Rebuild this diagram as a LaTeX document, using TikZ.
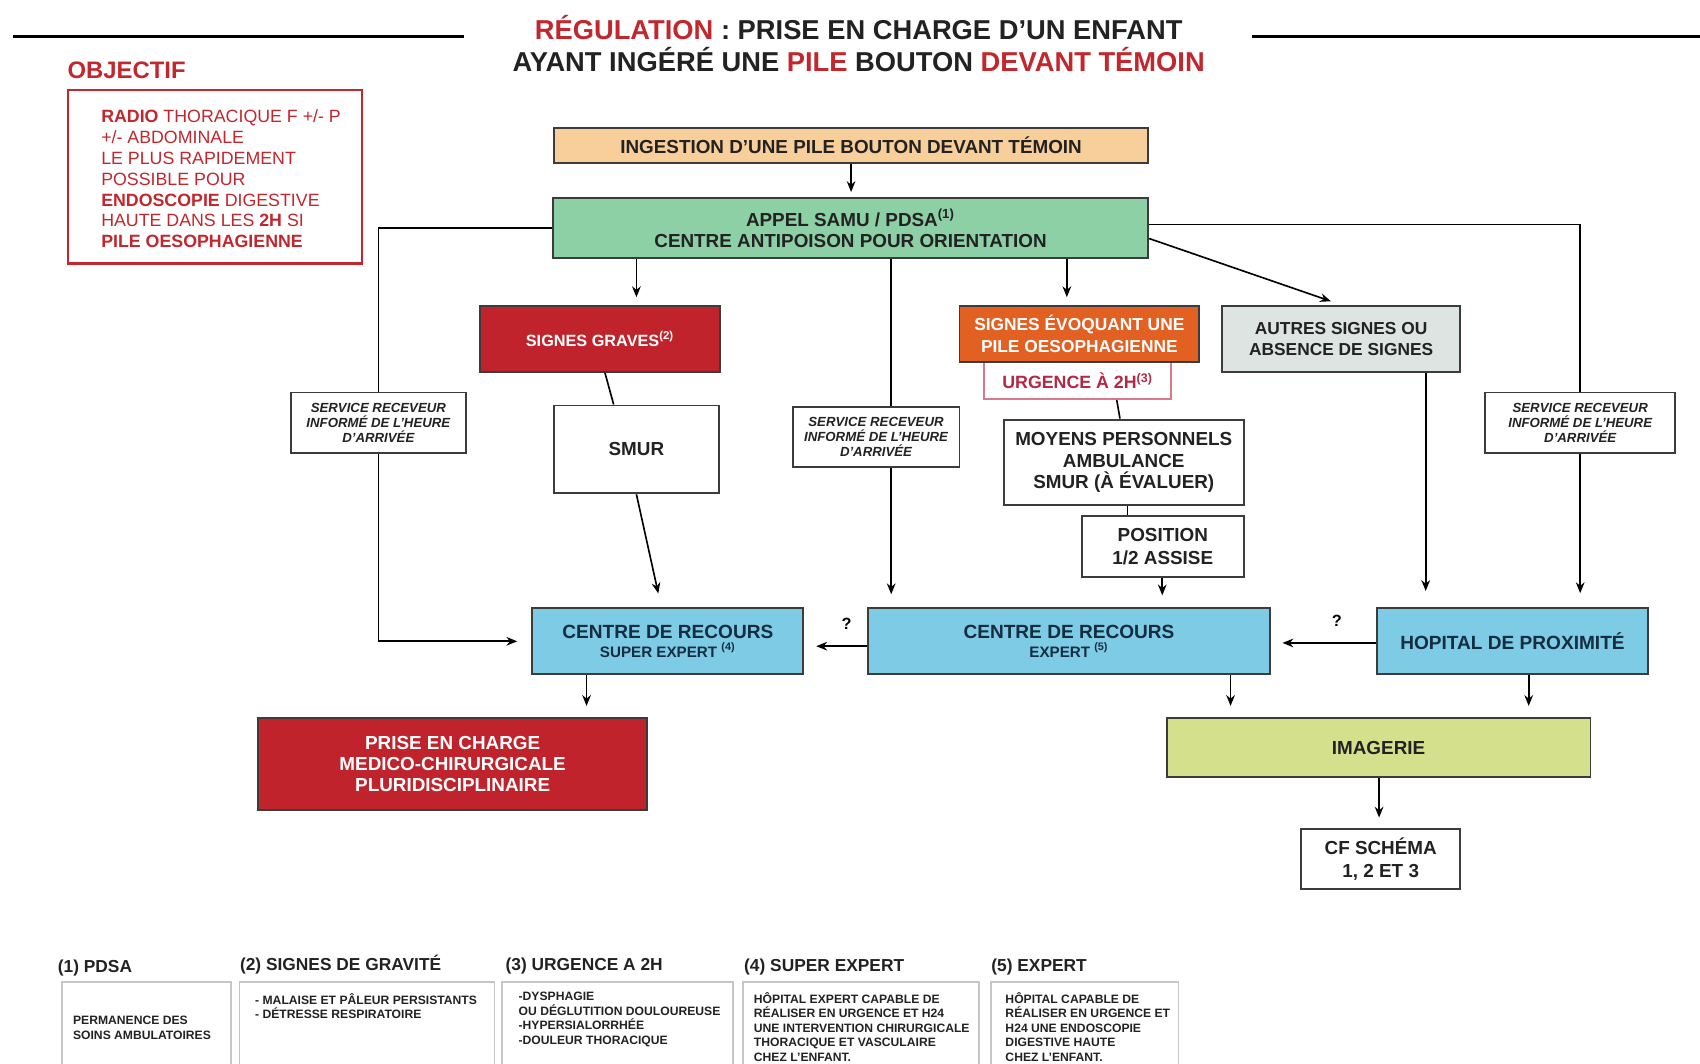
\documentclass[tikz,border=0pt]{standalone}
\usepackage{fontspec}
\setmainfont{Liberation Sans}
\usetikzlibrary{arrows.meta}

\definecolor{titlered}{RGB}{193,39,45}
\definecolor{textdark}{RGB}{34,34,34}
\definecolor{boxline}{RGB}{60,60,60}
\definecolor{ingestfill}{RGB}{248,206,155}
\definecolor{appelfill}{RGB}{141,208,165}
\definecolor{gravefill}{RGB}{192,35,43}
\definecolor{evoqfill}{RGB}{226,96,34}
\definecolor{autresfill}{RGB}{221,228,225}
\definecolor{bluefill}{RGB}{125,203,228}
\definecolor{imagfill}{RGB}{212,224,140}
\definecolor{navy}{RGB}{20,45,65}
\definecolor{urgtext}{RGB}{180,40,70}
\definecolor{urgline}{RGB}{220,120,140}

\begin{document}
\begin{tikzpicture}[x=0.5pt,y=-0.5pt,
  box/.style={draw=boxline, line width=0.9pt, inner sep=1pt, align=center, text=textdark,
    font=\bfseries\fontsize{8.7}{9.75}\selectfont},
  servbox/.style={box, fill=white, font=\bfseries\itshape\fontsize{6.1}{6.75}\selectfont},
  bluebox/.style={box, fill=bluefill, text=navy, minimum height=30.5pt,
    font=\bfseries\fontsize{8.8}{8.5}\selectfont},
  arr/.style={-{Stealth[length=5pt,width=4pt]}, line width=0.75pt},
  lien/.style={line width=0.75pt},
  note/.style={anchor=north west, inner sep=0pt, align=left, text=textdark,
    font=\bfseries\fontsize{5.6}{6.65}\selectfont},
  notetitle/.style={anchor=west, inner sep=0pt, text=textdark, font=\bfseries\fontsize{8}{9}\selectfont},
  notebox/.style={draw=gray!45, line width=0.8pt}
]
\useasboundingbox (0,0) rectangle (1568,981);

% titre
\node[align=center, text=textdark, font=\bfseries\fontsize{12.6}{15}\selectfont] (titre) at (792,40)
  {\textcolor{titlered}{RÉGULATION} : PRISE EN CHARGE D'UN ENFANT\\
   AYANT INGÉRÉ UNE \textcolor{titlered}{PILE} BOUTON \textcolor{titlered}{DEVANT TÉMOIN}};
\draw[line width=1.5pt] (12,34) -- (428,34);
\draw[line width=1.5pt] (1155,34) -- (1568,34);

% objectif
\node[anchor=west, inner sep=0pt, text=titlered, font=\bfseries\fontsize{11}{13}\selectfont] (objlabel) at (62,65) {OBJECTIF};
\draw[draw=titlered, line width=1pt] (63,83) rectangle (334,243);
\node[anchor=north west, inner sep=0pt, align=left, text=titlered, font=\fontsize{8.2}{9.6}\selectfont] (objtexte) at (93,101)
  {\textbf{RADIO} THORACIQUE F +/- P\\ +/- ABDOMINALE\\ LE PLUS RAPIDEMENT\\ POSSIBLE POUR\\
   \textbf{ENDOSCOPIE} DIGESTIVE\\ HAUTE DANS LES \textbf{2H} SI\\ \textbf{PILE OESOPHAGIENNE}};

% boites
\node[box, fill=ingestfill, minimum width=274pt, minimum height=16pt] (ingest) at (785,134) {INGESTION D'UNE PILE BOUTON DEVANT TÉMOIN};
\node[box, fill=appelfill, minimum width=274.5pt, minimum height=27.5pt, font=\bfseries\fontsize{8.7}{9.5}\selectfont] (appel) at (784.5,210.5)
  {APPEL SAMU / PDSA\textsuperscript{(1)}\\ CENTRE ANTIPOISON POUR ORIENTATION};
\node[box, fill=gravefill, text=white, minimum width=110.5pt, minimum height=30.5pt, font=\bfseries\fontsize{7.5}{9}\selectfont] (graves) at (553.5,312.5) {SIGNES GRAVES\textsuperscript{(2)}};
\node[box, fill=white, minimum width=76pt, minimum height=40.5pt] (smur) at (587,414.5) {SMUR};
\node[servbox, minimum width=81pt, minimum height=28pt] (servL) at (349,390) {SERVICE RECEVEUR\\ INFORMÉ DE L'HEURE\\ D'ARRIVÉE};
\node[servbox, minimum width=77pt, minimum height=28pt] (servM) at (808,403) {SERVICE RECEVEUR\\ INFORMÉ DE L'HEURE\\ D'ARRIVÉE};
\node[servbox, minimum width=87.5pt, minimum height=28pt] (servR) at (1457.5,390) {SERVICE RECEVEUR\\ INFORMÉ DE L'HEURE\\ D'ARRIVÉE};
\node[draw=urgline, line width=0.9pt, fill=white, text=urgtext, font=\bfseries\fontsize{8.2}{9}\selectfont,
  minimum width=86pt, minimum height=17pt] (urg) at (994,351) {URGENCE À 2H\textsuperscript{(3)}};
\node[box, fill=evoqfill, text=white, minimum width=110.5pt, minimum height=26pt, font=\bfseries\fontsize{8}{10.5}\selectfont] (evoq) at (995.5,308)
  {SIGNES ÉVOQUANT UNE\\ PILE OESOPHAGIENNE};
\node[box, fill=autresfill, minimum width=110pt, minimum height=30.5pt, font=\bfseries\fontsize{8}{9.5}\selectfont] (autres) at (1237,312.5)
  {AUTRES SIGNES OU\\ ABSENCE DE SIGNES};
\node[box, fill=white, minimum width=110.5pt, minimum height=39.5pt] (moyens) at (1036.5,426.5) {MOYENS PERSONNELS\\ AMBULANCE\\ SMUR (À ÉVALUER)};
\node[box, fill=white, minimum width=74.5pt, minimum height=28pt, font=\bfseries\fontsize{8.7}{10.5}\selectfont] (position) at (1072.5,504) {POSITION\\ 1/2 ASSISE};
\node[bluebox, minimum width=125pt] (supexp) at (616,591.5) {CENTRE DE RECOURS\\ {\fontsize{7}{8}\selectfont SUPER EXPERT \textsuperscript{(4)}}};
\node[bluebox, minimum width=185pt] (expert) at (986,591.5) {CENTRE DE RECOURS\\ {\fontsize{7}{8}\selectfont EXPERT \textsuperscript{(5)}}};
\node[bluebox, minimum width=125pt] (hopital) at (1395,591.5) {HOPITAL DE PROXIMITÉ};
\node[box, fill=gravefill, text=white, minimum width=179.5pt, minimum height=42.5pt] (prise) at (417.5,704.5)
  {PRISE EN CHARGE\\ MEDICO-CHIRURGICALE\\ PLURIDISCIPLINAIRE};
\node[box, fill=imagfill, minimum width=195.5pt, minimum height=27.5pt] (imagerie) at (1271.5,689.5) {IMAGERIE};
\node[box, fill=white, minimum width=73.5pt, minimum height=27.5pt, font=\bfseries\fontsize{8.7}{10.5}\selectfont] (cfschema) at (1273.5,792.5) {CF SCHÉMA\\ 1, 2 ET 3};

% liaisons
\draw[arr, shorten >=2.5pt] (ingest.south) -- (ingest.south |- appel.north);
\draw[arr, shorten >=3.5pt] (appel.south -| 587,0) -- (graves.north -| 587,0);
\draw[arr, shorten >=3.5pt] (appel.south -| 984,0) -- (evoq.north -| 984,0);
\draw[lien] (appel.south -| 822,0) -- (servM.north -| 822,0);
\draw[arr, shorten >=6pt] (servM.south -| 822,0) -- (expert.north -| 822,0);
\draw[arr, shorten >=5pt] ([yshift=-4.75pt]appel.east) -- (autres.north);
\draw[lien] (appel.west) -| (servL.north);
\draw[arr, shorten >=6.5pt] (servL.south) |- (supexp.west);
\draw[lien] ([yshift=1.75pt]appel.east) -| (servR.north);
\draw[arr, shorten >=6.5pt] (servR.south) -- (servR.south |- hopital.north);
\draw[arr, shorten >=7.5pt] (autres.south -| 1315,0) -- (hopital.north -| 1315,0);
\draw[lien] (graves.south -| 558,0) -- (smur.north -| 566,0);
\draw[arr, shorten >=6.5pt] (smur.south) -- (supexp.north -| 610,0);
\draw[lien] (urg.south -| 1030,0) -- (moyens.north -| 1033,0);
\draw[lien] (moyens.south -| 1040,0) -- (position.north -| 1040,0);
\draw[arr, shorten >=5.5pt] (position.south -| 1072,0) -- (expert.north -| 1072,0);
\draw[arr, shorten >=5.5pt] (expert.west |- 0,596) -- (supexp.east |- 0,596)
  node[pos=0.33, above=4pt, font=\bfseries\fontsize{7.5}{9}\selectfont] (qa) {?};
\draw[arr, shorten >=5.5pt] (hopital.west |- 0,593) -- (expert.east |- 0,593)
  node[pos=0.37, above=4pt, font=\bfseries\fontsize{7.5}{9}\selectfont] (qb) {?};
\draw[arr, shorten >=5pt] (supexp.south -| 541,0) -- (prise.north -| 541,0);
\draw[arr, shorten >=5pt] (expert.south -| 1135,0) -- (imagerie.north -| 1135,0);
\draw[arr, shorten >=5pt] (hopital.south -| 1410,0) -- (imagerie.north -| 1410,0);
\draw[arr, shorten >=5pt] (imagerie.south -| 1272,0) -- (cfschema.north -| 1272,0);

% notes
\node[notetitle] (n1titre) at (53,893) {(1) PDSA};
\node[notetitle] (n2titre) at (221,890) {(2) SIGNES DE GRAVITÉ};
\node[notetitle] (n3titre) at (466,891) {(3) URGENCE A 2H};
\node[notetitle] (n4titre) at (686,892) {(4) SUPER EXPERT};
\node[notetitle] (n5titre) at (914,892) {(5) EXPERT};
\foreach \xa/\xb in {57/213, 221/456, 463/676, 685/903, 914/1087}
  \draw[notebox] (\xa,990) -- (\xa,906) -- (\xb,906) -- (\xb,990);
\node[note] (n1) at (67,937) {PERMANENCE DES\\ SOINS AMBULATOIRES};
\node[note] (n2) at (235,916) {- MALAISE ET PÂLEUR PERSISTANTS\\ - DÉTRESSE RESPIRATOIRE};
\node[note] (n3) at (478,915) {-DYSPHAGIE\\ OU DÉGLUTITION DOULOUREUSE\\ -HYPERSIALORRHÉE\\ -DOULEUR THORACIQUE};
\node[note] (n4) at (695,915) {HÔPITAL EXPERT CAPABLE DE\\ RÉALISER EN URGENCE ET H24\\ UNE INTERVENTION CHIRURGICALE\\ THORACIQUE ET VASCULAIRE\\ CHEZ L'ENFANT.};
\node[note] (n5) at (927,915) {HÔPITAL CAPABLE DE\\ RÉALISER EN URGENCE ET\\ H24 UNE ENDOSCOPIE\\ DIGESTIVE HAUTE\\ CHEZ L'ENFANT.};

\end{tikzpicture}
\end{document}
